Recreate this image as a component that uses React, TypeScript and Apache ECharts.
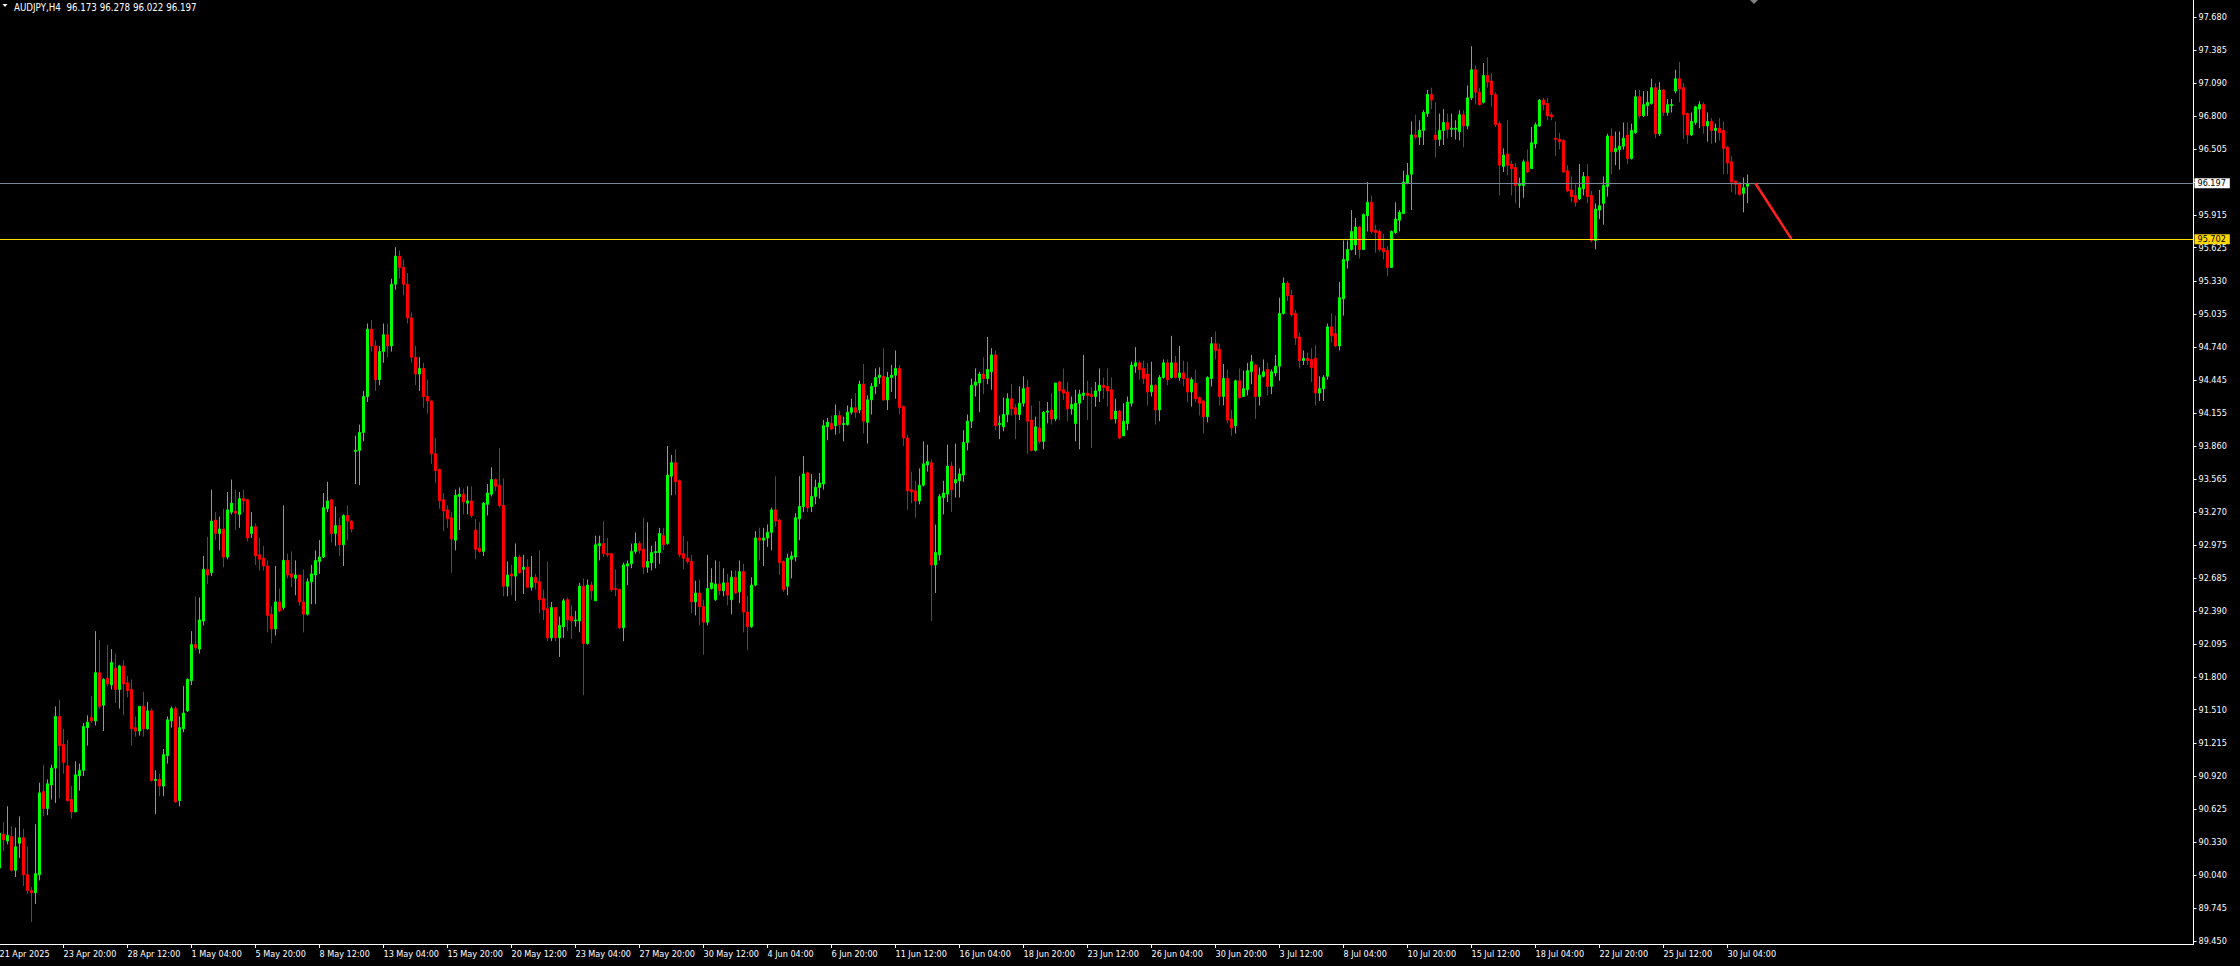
import React, { useEffect, useRef } from "react";
import * as echarts from "echarts";

// ---------- data ----------
const symbolTitle = "AUDJPY,H4";
const lastBarOHLC = [96.173, 96.278, 96.022, 96.197];
const firstBarTime = Date.UTC(2025, 3, 21, 4, 0); // first (partially visible) H4 bar
const barHours = 4;
const totalSlots = 549; // bars that fit across the chart, incl. empty right shift
const timeLabelStep = 16;

const opens = [
  90.10,90.40,90.34,90.38,90.08,90.32,90.37,90.04,89.90,89.88,
  90.04,90.78,90.63,90.84,90.99,91.45,91.20,91.01,90.71,90.60,
  90.92,90.97,91.35,91.44,91.41,91.84,91.55,91.79,91.73,91.88,
  91.69,91.90,91.75,91.69,91.35,91.32,91.54,91.34,91.50,90.88,
  90.89,90.83,91.10,91.41,91.52,90.70,91.34,91.50,91.77,92.09,
  92.05,92.30,92.76,92.73,93.20,93.08,93.12,92.87,93.27,93.28,
  93.25,93.39,93.38,93.08,93.14,92.89,92.86,92.79,92.36,92.23,
  92.47,92.42,92.84,92.72,92.68,92.71,92.47,92.36,92.65,92.71,
  92.83,92.87,93.30,93.38,93.08,93.15,92.98,93.24,93.19,93.81,
  93.82,93.98,94.30,94.90,94.75,94.45,94.70,94.85,94.75,95.30,
  95.55,95.45,95.30,95.00,94.65,94.50,94.55,94.30,94.26,93.79,
  93.65,93.38,93.29,93.22,93.02,93.41,93.43,93.35,93.37,93.11,
  92.95,92.92,93.34,93.43,93.56,93.51,93.33,92.61,92.72,92.70,
  92.87,92.76,92.78,92.60,92.69,92.65,92.50,92.41,92.15,92.42,
  92.15,92.25,92.49,92.34,92.30,92.30,92.61,92.10,92.62,92.48,
  92.97,92.99,92.90,92.90,92.59,92.58,92.24,92.79,92.81,92.92,
  92.99,92.94,92.78,92.82,92.91,92.91,93.06,92.99,93.59,93.71,
  93.55,92.90,92.86,92.83,92.47,92.55,92.43,92.29,92.59,92.49,
  92.63,92.57,92.64,92.49,92.69,92.56,92.74,92.38,92.25,92.62,
  93.04,93.02,93.04,93.09,93.29,93.20,92.83,92.61,92.85,92.87,
  93.21,93.32,93.62,93.32,93.41,93.49,93.52,94.03,94.06,94.04,
  94.13,94.05,94.05,94.16,94.20,94.18,94.41,94.07,94.27,94.39,
  94.47,94.48,94.27,94.47,94.49,94.55,94.21,93.93,93.47,93.46,
  93.37,93.51,93.69,93.71,92.80,92.89,93.40,93.43,93.68,93.53,
  93.55,93.60,93.89,94.08,94.40,94.42,94.50,94.46,94.52,94.67,
  94.05,94.03,94.14,94.28,94.20,94.14,94.24,94.38,94.09,93.82,
  94.02,93.90,94.16,94.18,94.10,94.43,94.36,94.34,94.19,94.06,
  94.24,94.31,94.33,94.32,94.30,94.35,94.40,94.39,94.36,94.10,
  94.17,93.95,94.06,94.24,94.57,94.60,94.55,94.50,94.34,94.40,
  94.18,94.47,94.60,94.47,94.60,94.47,94.51,94.46,94.34,94.42,
  94.29,94.26,94.12,94.46,94.77,94.72,94.30,94.46,94.10,94.04,
  94.44,94.30,94.36,94.52,94.58,94.30,94.48,94.54,94.39,94.51,
  94.57,95.04,95.31,95.20,95.04,94.83,94.62,94.64,94.63,94.64,
  94.33,94.37,94.48,94.92,94.86,94.75,95.17,95.51,95.61,95.65,
  95.81,95.61,95.91,96.03,95.78,95.77,95.62,95.60,95.45,95.76,
  95.87,95.93,96.20,96.28,96.63,96.61,96.67,96.82,96.99,96.63,
  96.59,96.67,96.74,96.68,96.68,96.66,96.81,96.71,96.96,97.21,
  97.01,96.92,97.16,97.11,96.99,96.73,96.35,96.46,96.37,96.34,
  96.18,96.18,96.39,96.33,96.55,96.71,96.94,96.91,96.81,96.60,
  96.59,96.58,96.31,96.14,96.09,96.06,96.15,96.26,96.09,95.69,
  95.96,96.02,96.17,96.62,96.48,96.50,96.53,96.63,96.42,96.65,
  96.97,96.80,96.89,96.91,97.05,96.64,97.03,96.83,96.89,97.02,
  97.13,97.05,96.82,96.63,96.74,96.86,96.90,96.71,96.75,96.67,
  96.69,96.67,96.52,96.39,96.22,96.20,96.11,96.173,
];

const highs = [
  90.44,90.51,90.65,90.47,90.46,90.56,90.45,90.29,89.93,90.49,
  90.86,91.02,90.89,91.02,91.54,91.60,91.34,91.24,90.83,91.05,
  91.03,91.39,91.46,91.63,92.21,92.13,91.79,92.09,92.05,92.01,
  91.91,91.95,91.81,91.78,91.45,91.54,91.67,91.58,91.52,90.97,
  90.94,91.16,91.45,91.54,91.54,91.45,91.72,91.79,92.21,92.52,
  92.51,92.88,93.05,93.47,93.27,93.23,93.30,93.45,93.56,93.47,
  93.45,93.47,93.39,93.27,93.17,93.04,92.97,92.84,92.43,92.79,
  92.59,93.33,92.90,92.92,92.84,92.71,92.76,92.68,92.80,92.93,
  93.02,93.44,93.54,93.39,93.32,93.22,93.25,93.33,93.20,93.95,
  94.05,94.35,94.95,94.98,94.80,94.75,94.95,94.95,95.35,95.63,
  95.60,95.52,95.40,95.05,94.75,94.65,94.60,94.45,94.27,93.93,
  93.66,93.44,93.33,93.27,93.47,93.49,93.48,93.50,93.50,93.21,
  93.18,93.36,93.52,93.67,93.57,93.84,93.57,92.83,92.80,92.99,
  92.89,92.89,92.85,92.88,92.72,92.93,92.58,92.83,92.47,92.42,
  92.34,92.50,92.51,92.44,92.39,92.64,92.68,92.67,92.65,93.06,
  93.06,93.19,93.04,92.90,92.76,92.59,92.82,92.84,92.99,93.09,
  93.01,93.22,93.18,92.97,93.01,93.13,93.13,93.86,93.78,93.83,
  93.56,93.06,93.01,92.89,92.66,92.67,92.49,92.89,92.77,92.84,
  92.83,92.77,92.72,92.75,92.75,92.84,92.81,92.52,92.69,93.10,
  93.13,93.13,93.16,93.31,93.59,93.21,92.84,92.90,92.92,93.26,
  93.59,93.77,93.63,93.61,93.56,93.62,94.09,94.11,94.13,94.23,
  94.17,94.12,94.22,94.28,94.33,94.44,94.59,94.31,94.42,94.55,
  94.56,94.73,94.52,94.58,94.71,94.58,94.22,93.96,93.63,93.55,
  93.66,93.90,93.87,93.74,93.16,93.43,93.55,93.87,93.72,93.88,
  93.66,94.00,94.14,94.46,94.55,94.52,94.65,94.83,94.73,94.71,
  94.13,94.29,94.33,94.41,94.23,94.39,94.48,94.45,94.22,94.12,
  94.26,94.17,94.25,94.33,94.42,94.44,94.55,94.43,94.30,94.36,
  94.36,94.67,94.44,94.38,94.43,94.55,94.47,94.55,94.47,94.28,
  94.18,94.24,94.30,94.61,94.74,94.62,94.62,94.60,94.61,94.41,
  94.49,94.63,94.63,94.84,94.66,94.75,94.62,94.61,94.47,94.54,
  94.30,94.27,94.48,94.83,94.88,94.77,94.59,94.54,94.18,94.45,
  94.55,94.53,94.60,94.67,94.59,94.56,94.63,94.60,94.54,94.67,
  95.18,95.36,95.33,95.25,95.07,94.87,94.71,94.69,94.73,94.76,
  94.48,94.49,94.95,95.04,95.02,95.32,95.69,95.69,95.96,95.89,
  95.82,95.93,96.21,96.09,95.83,95.79,95.75,95.64,95.78,96.03,
  95.96,96.31,96.38,96.75,96.81,96.76,96.85,97.03,97.05,96.92,
  96.82,96.86,96.82,96.82,96.76,96.85,96.85,97.07,97.42,97.25,
  97.05,97.27,97.32,97.18,97.01,96.75,96.51,96.76,96.40,96.38,
  96.25,96.41,96.50,96.70,96.74,96.95,96.96,96.96,96.83,96.75,
  96.65,96.59,96.36,96.26,96.19,96.37,96.30,96.37,96.13,96.02,
  96.14,96.26,96.64,96.69,96.66,96.66,96.74,96.74,96.73,97.03,
  97.03,97.02,97.02,97.13,97.09,97.10,97.04,96.95,96.95,97.21,
  97.28,97.09,96.83,96.83,96.89,96.93,96.92,96.83,96.78,96.73,
  96.78,96.75,96.53,96.44,96.22,96.21,96.25,96.278,
];

const lows = [
  90.08,90.25,90.31,90.07,90.02,90.19,89.94,89.87,89.62,89.78,
  89.99,90.56,90.57,90.71,90.68,90.72,90.94,90.69,90.54,90.60,
  90.79,90.92,91.19,91.39,91.37,91.52,91.32,91.72,91.69,91.57,
  91.52,91.46,91.62,91.19,91.27,91.28,91.27,91.33,90.87,90.58,
  90.74,90.74,91.03,91.35,90.68,90.65,91.31,91.49,91.73,92.04,
  92.01,92.26,92.63,92.70,93.02,92.93,92.78,92.85,93.25,93.11,
  93.13,93.27,93.01,93.04,92.80,92.75,92.75,92.20,92.10,92.17,
  92.38,92.40,92.68,92.60,92.53,92.44,92.20,92.35,92.45,92.45,
  92.72,92.86,93.27,93.00,92.97,92.88,92.79,93.02,93.09,93.52,
  93.51,93.90,94.25,94.70,94.35,94.40,94.60,94.65,94.70,95.25,
  95.35,95.20,94.95,94.60,94.40,94.35,94.20,94.15,93.70,93.53,
  93.30,93.10,93.13,92.73,92.93,93.11,93.25,93.25,93.22,92.85,
  92.91,92.88,93.24,93.41,93.46,93.31,92.52,92.52,92.53,92.48,
  92.72,92.54,92.60,92.57,92.58,92.37,92.31,92.12,92.12,92.12,
  91.98,92.15,92.21,92.14,92.25,92.20,91.64,92.09,92.49,92.48,
  92.84,92.87,92.87,92.56,92.52,92.23,92.12,92.62,92.77,92.90,
  92.90,92.72,92.73,92.75,92.77,92.81,92.93,92.98,93.42,93.42,
  92.87,92.76,92.81,92.37,92.35,92.26,92.00,92.26,92.58,92.48,
  92.53,92.52,92.44,92.36,92.54,92.46,92.20,92.04,92.24,92.61,
  92.84,92.79,92.96,92.93,93.14,92.71,92.56,92.53,92.68,92.83,
  93.02,93.27,93.27,93.27,93.34,93.39,93.47,93.91,94.00,93.96,
  93.97,93.90,94.04,94.14,94.11,94.15,93.97,93.88,94.14,94.32,
  94.41,94.26,94.18,94.34,94.28,94.14,93.86,93.29,93.35,93.22,
  93.34,93.50,93.63,92.30,92.55,92.84,93.25,93.36,93.27,93.40,
  93.40,93.54,93.82,94.02,94.30,94.16,94.32,94.41,94.36,94.00,
  93.92,93.99,94.07,94.13,93.92,94.09,94.21,93.79,93.81,93.81,
  93.88,93.83,94.06,94.05,94.08,94.09,94.27,94.08,94.14,93.90,
  93.83,94.27,94.09,93.84,94.21,94.25,94.28,94.21,94.09,94.06,
  93.92,93.95,94.00,94.21,94.51,94.45,94.41,94.22,94.30,94.05,
  94.08,94.46,94.40,94.46,94.46,94.44,94.39,94.25,94.21,94.25,
  94.13,93.97,94.07,94.39,94.63,94.22,94.22,94.06,93.95,93.97,
  94.28,94.30,94.31,94.41,94.10,94.22,94.47,94.31,94.32,94.48,
  94.44,95.03,95.15,95.01,94.76,94.55,94.58,94.58,94.43,94.22,
  94.26,94.26,94.45,94.78,94.74,94.71,95.02,95.44,95.60,95.56,
  95.53,95.61,95.77,95.75,95.58,95.59,95.52,95.37,95.45,95.75,
  95.77,95.93,96.19,95.96,96.59,96.54,96.54,96.79,96.86,96.43,
  96.53,96.54,96.60,96.61,96.59,96.58,96.52,96.68,96.94,96.90,
  96.89,96.91,97.05,96.88,96.70,96.09,96.30,96.27,96.09,96.02,
  95.98,96.07,96.29,96.33,96.51,96.70,96.85,96.76,96.76,96.44,
  96.50,96.29,96.12,96.03,95.99,96.05,96.09,96.02,95.67,95.61,
  95.88,95.83,96.08,96.28,96.36,96.32,96.50,96.37,96.41,96.64,
  96.78,96.79,96.80,96.90,96.60,96.62,96.80,96.80,96.83,97.00,
  96.92,96.59,96.55,96.62,96.72,96.69,96.64,96.57,96.55,96.56,
  96.58,96.28,96.28,96.12,96.10,96.09,95.94,96.022,
];

const closes = [
  90.41,90.35,90.39,90.08,90.29,90.37,90.04,89.90,89.88,90.05,
  90.77,90.63,90.85,90.99,91.45,91.19,91.04,90.70,90.60,90.93,
  90.97,91.36,91.40,91.41,91.84,91.54,91.78,91.74,91.93,91.69,
  91.90,91.74,91.68,91.34,91.32,91.54,91.34,91.50,90.88,90.89,
  90.83,91.11,91.42,91.52,90.69,91.35,91.48,91.78,92.09,92.06,
  92.31,92.76,92.71,93.19,93.08,93.12,92.87,93.29,93.35,93.26,
  93.39,93.37,93.04,93.14,92.88,92.85,92.79,92.35,92.23,92.47,
  92.39,92.84,92.71,92.69,92.71,92.47,92.36,92.65,92.72,92.84,
  92.87,93.31,93.37,93.08,93.15,92.98,93.24,93.19,93.12,93.82,
  93.98,94.30,94.90,94.75,94.45,94.70,94.85,94.75,95.30,95.55,
  95.45,95.30,95.00,94.65,94.50,94.55,94.30,94.26,93.79,93.64,
  93.37,93.28,93.21,93.03,93.42,93.43,93.36,93.37,93.24,92.94,
  92.92,93.35,93.44,93.56,93.50,93.33,92.61,92.71,92.70,92.87,
  92.73,92.78,92.60,92.69,92.64,92.49,92.40,92.15,92.42,92.15,
  92.26,92.48,92.31,92.30,92.31,92.61,92.10,92.62,92.57,92.98,
  92.99,92.90,92.89,92.58,92.58,92.24,92.80,92.81,92.92,92.99,
  92.93,92.78,92.83,92.91,92.92,93.08,92.98,93.60,93.71,93.54,
  92.89,92.86,92.83,92.47,92.55,92.43,92.29,92.59,92.64,92.63,
  92.57,92.64,92.53,92.69,92.55,92.74,92.38,92.25,92.62,93.04,
  93.02,93.04,93.09,93.29,93.19,92.82,92.58,92.86,92.88,93.22,
  93.32,93.61,93.31,93.41,93.49,93.53,94.04,94.07,94.01,94.13,
  94.05,94.06,94.16,94.20,94.16,94.41,94.08,94.27,94.39,94.47,
  94.49,94.27,94.47,94.49,94.55,94.20,93.93,93.46,93.45,93.37,
  93.51,93.70,93.72,92.80,92.91,93.41,93.44,93.68,93.47,93.56,
  93.61,93.89,94.08,94.40,94.43,94.50,94.46,94.54,94.67,94.04,
  94.06,94.14,94.28,94.19,94.14,94.24,94.37,94.08,93.82,94.03,
  93.90,94.16,94.17,94.10,94.42,94.35,94.33,94.19,94.23,94.24,
  94.32,94.33,94.31,94.30,94.35,94.40,94.38,94.35,94.10,94.17,
  93.93,94.08,94.25,94.58,94.60,94.54,94.46,94.34,94.40,94.18,
  94.47,94.60,94.45,94.60,94.47,94.51,94.46,94.34,94.45,94.28,
  94.24,94.12,94.47,94.77,94.71,94.30,94.46,94.09,94.02,94.44,
  94.29,94.37,94.53,94.61,94.30,94.49,94.52,94.39,94.52,94.57,
  95.04,95.31,95.20,95.03,94.82,94.62,94.64,94.62,94.56,94.33,
  94.37,94.47,94.92,94.84,94.75,95.18,95.52,95.61,95.77,95.81,
  95.61,95.92,96.03,95.77,95.76,95.61,95.59,95.45,95.77,95.88,
  95.94,96.21,96.27,96.63,96.61,96.67,96.83,96.99,96.94,96.59,
  96.67,96.74,96.68,96.69,96.69,96.81,96.71,96.96,97.21,97.01,
  96.90,97.16,97.10,96.99,96.72,96.36,96.45,96.36,96.33,96.18,
  96.19,96.39,96.30,96.56,96.72,96.94,96.90,96.80,96.79,96.59,
  96.57,96.30,96.13,96.08,96.03,96.16,96.26,96.08,95.69,95.97,
  96.00,96.18,96.62,96.48,96.51,96.53,96.60,96.42,96.67,96.97,
  96.80,96.90,96.92,97.05,96.64,97.03,96.83,96.90,96.90,97.13,
  97.04,96.81,96.63,96.75,96.88,96.90,96.71,96.75,96.67,96.69,
  96.65,96.51,96.38,96.21,96.19,96.10,96.16,96.197,
];

const priceTicks = [
  89.45, 89.745, 90.04, 90.33, 90.625, 90.92, 91.215, 91.51, 91.8, 92.095,
  92.39, 92.685, 92.975, 93.27, 93.565, 93.86, 94.155, 94.445, 94.74, 95.035,
  95.33, 95.625, 95.915, 96.21, 96.505, 96.8, 97.09, 97.385, 97.68,
];
const hiddenPriceLabels = [96.21]; // covered by the bid price box
const bidPrice = 96.197;
const levelPrice = 95.702;
const arrowBars = [439, 448];
const arrowPrices = [96.197, 95.702];
const priceMin = 89.4233;
const priceMax = 97.8316;

const MONTHS = ["Jan", "Feb", "Mar", "Apr", "May", "Jun", "Jul", "Aug", "Sep", "Oct", "Nov", "Dec"];
const FONT = '"DejaVu Sans Condensed", "DejaVu Sans", "Liberation Sans", sans-serif';

function buildCategories(n: number): string[] {
  const out: string[] = [];
  let t = firstBarTime;
  for (let i = 0; i < n; i++) {
    const d = new Date(t);
    const day = d.getUTCDate();
    const mon = MONTHS[d.getUTCMonth()];
    if (i === 0) {
      out.push(`${day} ${mon} ${d.getUTCFullYear()}`);
    } else {
      const hh = String(d.getUTCHours()).padStart(2, "0");
      const mm = String(d.getUTCMinutes()).padStart(2, "0");
      out.push(`${day} ${mon} ${hh}:${mm}`);
    }
    t += barHours * 3600000;
    if (new Date(t).getUTCDay() === 6) t += 48 * 3600000; // skip weekend
  }
  return out;
}

export default function App() {
  const ref = useRef<HTMLDivElement>(null);

  useEffect(() => {
    document.body.style.margin = "0";
    document.body.style.background = "#000000";
    if (!ref.current) return;
    const chart = echarts.init(ref.current, null, { renderer: "svg" });
    const categories = buildCategories(totalSlots);
    const lastIndex = opens.length - 1;
    const candles = opens.map((o, i) => [o, closes[i], lows[i], highs[i]]);
    const showLabel = (i: number) => i % timeLabelStep === 0 && i <= lastIndex;

    const option: any = {
      animation: false,
      backgroundColor: "#000000",
      textStyle: { fontFamily: FONT },
      grid: {
        left: -2.5,
        top: 0,
        width: 2196,
        height: 944,
        containLabel: false,
        outerBoundsMode: "none",
        show: false,
      },
      xAxis: {
        type: "category",
        data: categories,
        boundaryGap: true,
        axisLine: { show: true, lineStyle: { color: "#FFFFFF", width: 1 } },
        axisTick: {
          show: true,
          alignWithLabel: true,
          interval: (i: number) => i > 0 && showLabel(i),
          length: 4,
          lineStyle: { color: "#FFFFFF", width: 1 },
        },
        axisLabel: {
          show: true,
          interval: (i: number) => showLabel(i),
          color: "#FFFFFF",
          fontSize: 9,
          fontFamily: FONT,
          align: "left",
          margin: 5,
        },
        splitLine: { show: false },
      },
      yAxis: {
        type: "value",
        position: "right",
        min: priceMin,
        max: priceMax,
        axisLine: { show: true, lineStyle: { color: "#FFFFFF", width: 1 } },
        axisTick: {
          show: true,
          length: 3,
          customValues: priceTicks,
          lineStyle: { color: "#FFFFFF", width: 1 },
        },
        axisLabel: {
          show: true,
          customValues: priceTicks.filter((v) => !hiddenPriceLabels.includes(v)),
          formatter: (v: number) => v.toFixed(3),
          color: "#FFFFFF",
          fontSize: 9,
          fontFamily: FONT,
          margin: 5,
        },
        splitLine: { show: false },
      },
      series: [
        {
          type: "candlestick",
          data: candles,
          barWidth: 2,
          silent: true,
          itemStyle: {
            color: "#00FF00",
            color0: "#FF0000",
            borderColor: "#00FF00",
            borderColor0: "#FF0000",
            borderColorDoji: "#00FF00",
            borderWidth: 1,
          },
          markLine: {
            silent: true,
            symbol: ["none", "none"],
            animation: false,
            data: [
              {
                yAxis: bidPrice,
                lineStyle: { color: "#778899", width: 1, type: "solid" },
                label: {
                  show: true,
                  position: "end",
                  distance: 1,
                  formatter: bidPrice.toFixed(3),
                  color: "#000000",
                  backgroundColor: "#FFFFFF",
                  padding: [1, 4, 0, 3],
                  fontSize: 9,
                  fontFamily: FONT,
                },
              },
              {
                yAxis: levelPrice,
                lineStyle: { color: "#FFE000", width: 1.2, type: "solid" },
                label: {
                  show: true,
                  position: "end",
                  distance: 1,
                  formatter: levelPrice.toFixed(3),
                  color: "#000000",
                  backgroundColor: "#FFD700",
                  padding: [1, 4, 0, 3],
                  fontSize: 9,
                  fontFamily: FONT,
                },
              },
            ],
          },
        },
        {
          type: "line",
          data: arrowBars.map((b, i) => [b, arrowPrices[i]]),
          showSymbol: false,
          symbol: "none",
          silent: true,
          z: 5,
          lineStyle: { color: "#FF2020", width: 2.5 },
        },
      ],
      graphic: [
        {
          type: "polygon",
          shape: { points: [[2.5, 4], [7.5, 4], [5, 7]] },
          style: { fill: "#FFFFFF" },
        },
        {
          type: "text",
          x: 14,
          y: 2,
          style: {
            text: `${symbolTitle}  ${lastBarOHLC.map((v) => v.toFixed(3)).join(" ")}`,
            fill: "#FFFFFF",
            fontSize: 9.7,
            fontFamily: FONT,
          },
        },
        {
          type: "polygon",
          shape: { points: [[1750, 0], [1758, 0], [1754, 4]] },
          style: { fill: "#808080" },
        },
      ],
    };

    chart.setOption(option);
    return () => chart.dispose();
  }, []);

  return (
    <div
      ref={ref}
      style={{ position: "fixed", left: 0, top: 0, width: 2240, height: 966, background: "#000000" }}
    />
  );
}
